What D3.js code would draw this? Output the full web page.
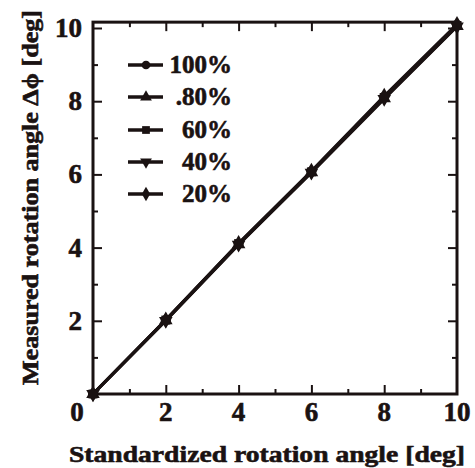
<!DOCTYPE html>
<html>
<head>
<meta charset="utf-8">
<script src="https://cdn.jsdelivr.net/npm/d3@7"></script>
<style>
  body { margin: 0; background: #fff; }
  svg text { font-family: "Liberation Serif", "Times New Roman", Times, serif; font-weight: 700; fill: #1a1212; stroke: #1a1212; stroke-width: 0.6px; }
</style>
</head>
<body>
<div id="vis"></div>
<script>
//-- Data
var standard = [0, 2, 4, 6, 8, 10];
var s100 = [0, 2.02, 4.10, 6.08, 8.12, 10.08];
var s80  = [0, 2.01, 4.09, 6.06, 8.08, 10.05];
var s60  = [0, 2.02, 4.11, 6.07, 8.10, 10.07];
var s40  = [0, 2.00, 4.08, 6.05, 8.06, 10.04];
var s20  = [0, 2.03, 4.12, 6.09, 8.14, 10.10];
var labels = ["100%", ".80%", "60%", "40%", "20%"];
var xTicks = [2, 4, 6, 8, 10];
var yTicks = [2, 4, 6, 8, 10];

var series = [s100, s80, s60, s40, s20];
var symbols = [d3.symbolCircle, d3.symbolTriangle, d3.symbolSquare, d3.symbolTriangle, d3.symbolDiamond];
var ink = "#1a1212";

var width = 475, height = 468;
var svg = d3.select("#vis").append("svg")
  .attr("width", width).attr("height", height);

var x = d3.scaleLinear().domain([0, 10]).range([93, 457]);
var y = d3.scaleLinear().domain([0, 10]).range([394, 28]);
var frameTop = y(10.16), frameBottom = y(0), frameLeft = x(0), frameRight = x(10);

// ticks on all four sides, pointing in
var minor = [1, 3, 5, 7, 9];
function frameTicks(axisFn, scale, pos, majorVals) {
  var g = svg.append("g").attr("transform", pos);
  g.append("g").call(axisFn(scale).tickValues(minor).tickSize(5).tickFormat(""));
  g.append("g").call(axisFn(scale).tickValues(majorVals).tickSize(9).tickFormat(""));
  g.selectAll(".domain").remove();
  g.selectAll("line").attr("stroke", ink).attr("stroke-width", 2);
}
frameTicks(d3.axisTop, x, "translate(0," + frameBottom + ")", [2, 4, 6, 8]);
frameTicks(d3.axisBottom, x, "translate(0," + frameTop + ")", [2, 4, 6, 8]);
frameTicks(d3.axisRight, y, "translate(" + frameLeft + ",0)", [2, 4, 6, 8, 10]);
frameTicks(d3.axisLeft, y, "translate(" + frameRight + ",0)", [2, 4, 6, 8, 10]);

svg.append("rect")
  .attr("x", frameLeft).attr("y", frameTop)
  .attr("width", frameRight - frameLeft).attr("height", frameBottom - frameTop)
  .attr("fill", "none").attr("stroke", ink).attr("stroke-width", 3);

// tick labels
svg.selectAll(".xl").data(xTicks).enter().append("text")
  .attr("x", function (d) { return x(d); })
  .attr("y", 421)
  .attr("text-anchor", "middle")
  .attr("font-size", 27)
  .text(function (d) { return d; });
svg.selectAll(".yl").data(yTicks).enter().append("text")
  .attr("x", 82)
  .attr("y", function (d) { return y(d) + 9; })
  .attr("text-anchor", "end")
  .attr("font-size", 27)
  .text(function (d) { return d; });
svg.append("text").attr("x", 77).attr("y", 421)
  .attr("text-anchor", "middle")
  .attr("font-size", 27).text("0");

// axis titles
svg.append("text")
  .attr("x", 69).attr("y", 462)
  .attr("font-size", 24)
  .attr("textLength", 396).attr("lengthAdjust", "spacingAndGlyphs")
  .text("Standardized rotation angle [deg]");
svg.append("text")
  .attr("transform", "translate(38,385) rotate(-90)")
  .attr("font-size", 24)
  .attr("textLength", 375).attr("lengthAdjust", "spacingAndGlyphs")
  .text("Measured rotation angle \u0394\u03d5 [deg]");

// lines and markers
var line = d3.line()
  .x(function (d, i) { return x(standard[i]); })
  .y(function (d) { return y(d); });

series.forEach(function (s) {
  svg.append("path")
    .attr("d", line(s))
    .attr("fill", "none")
    .attr("stroke", ink)
    .attr("stroke-width", 3);
});
series.forEach(function (s, k) {
  svg.selectAll(".m" + k).data(s).enter().append("path")
    .attr("d", d3.symbol().type(symbols[k]).size(80))
    .attr("fill", ink)
    .attr("transform", function (d, i) {
      return "translate(" + x(standard[i]) + "," + y(d) + ")" + (k === 3 ? " rotate(180)" : "");
    });
});

// legend
var legY = [65, 97, 130, 162, 194];
var leg = svg.selectAll(".leg").data(labels).enter().append("g")
  .attr("transform", function (d, i) { return "translate(0," + legY[i] + ")"; });
leg.append("line")
  .attr("x1", 128).attr("x2", 163)
  .attr("stroke", ink).attr("stroke-width", 3.5);
leg.append("path")
  .attr("d", function (d, i) { return d3.symbol().type(symbols[i]).size(60)(); })
  .attr("fill", ink)
  .attr("transform", function (d, i) { return "translate(146,0)" + (i === 3 ? " rotate(180)" : ""); });
leg.append("text")
  .attr("x", 232).attr("y", 8)
  .attr("text-anchor", "end")
  .attr("font-size", 25)
  .text(function (d) { return d; });
</script>
</body>
</html>
